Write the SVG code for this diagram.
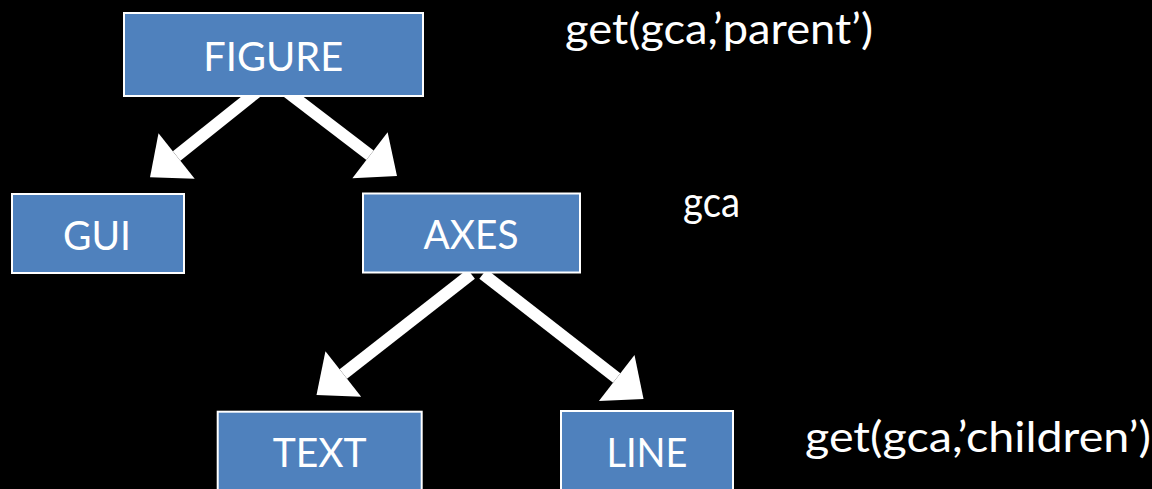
<svg xmlns="http://www.w3.org/2000/svg" width="1152" height="489" viewBox="0 0 1152 489">
  <style>
    .box { fill: #4F81BD; stroke: #FFFFFF; stroke-width: 2; }
    .lbl { font-family: "Lato", "Open Sans", sans-serif; font-size: 40px; fill: #FFFFFF; text-anchor: middle; }
    .side { font-family: "Lato", "Open Sans", sans-serif; font-size: 43px; fill: #FFFFFF; }
    .conn { stroke: #FFFFFF; stroke-width: 12; stroke-linecap: butt; fill: none; marker-end: url(#head); }
  </style>
  <defs>
    <marker id="head" markerUnits="userSpaceOnUse" orient="auto" refX="0" refY="0" markerWidth="40" markerHeight="60" viewBox="0 -30 40 60" overflow="visible">
      <path d="M0,-29 L34,0 L0,29 Z" fill="#FFFFFF"/>
    </marker>
  </defs>
  <rect x="0" y="0" width="1152" height="489" fill="#000000"/>
  <g id="connectors">
    <line class="conn" x1="258" y1="91" x2="176.6" y2="156"/>
    <line class="conn" x1="286" y1="91" x2="370" y2="155.3"/>
    <line class="conn" x1="471.2" y1="274" x2="343.3" y2="374"/>
    <line class="conn" x1="483" y1="274" x2="616.7" y2="378"/>
  </g>
  <g id="figure">
    <rect class="box" x="124" y="13" width="299" height="83"/>
    <text class="lbl" x="273.3" y="71" textLength="140" lengthAdjust="spacingAndGlyphs">FIGURE</text>
  </g>
  <g id="gui">
    <rect class="box" x="12" y="194" width="172" height="79"/>
    <text class="lbl" x="97" y="250" textLength="68" lengthAdjust="spacingAndGlyphs">GUI</text>
  </g>
  <g id="axes">
    <rect class="box" x="363" y="193.5" width="217" height="79"/>
    <text class="lbl" x="471" y="249" textLength="95" lengthAdjust="spacingAndGlyphs">AXES</text>
  </g>
  <g id="text">
    <rect class="box" x="217.7" y="411.7" width="204" height="90"/>
    <text class="lbl" x="319.7" y="467" textLength="94" lengthAdjust="spacingAndGlyphs">TEXT</text>
  </g>
  <g id="line">
    <rect class="box" x="561" y="411" width="172" height="90"/>
    <text class="lbl" x="647" y="467" textLength="81" lengthAdjust="spacingAndGlyphs">LINE</text>
  </g>
  <g id="annotations">
    <text class="side" x="565" y="44" textLength="308" lengthAdjust="spacingAndGlyphs">get(gca,’parent’)</text>
    <text class="side" x="683" y="217" textLength="57" lengthAdjust="spacingAndGlyphs">gca</text>
    <text class="side" x="805" y="452" textLength="346" lengthAdjust="spacingAndGlyphs">get(gca,’children’)</text>
  </g>
</svg>
